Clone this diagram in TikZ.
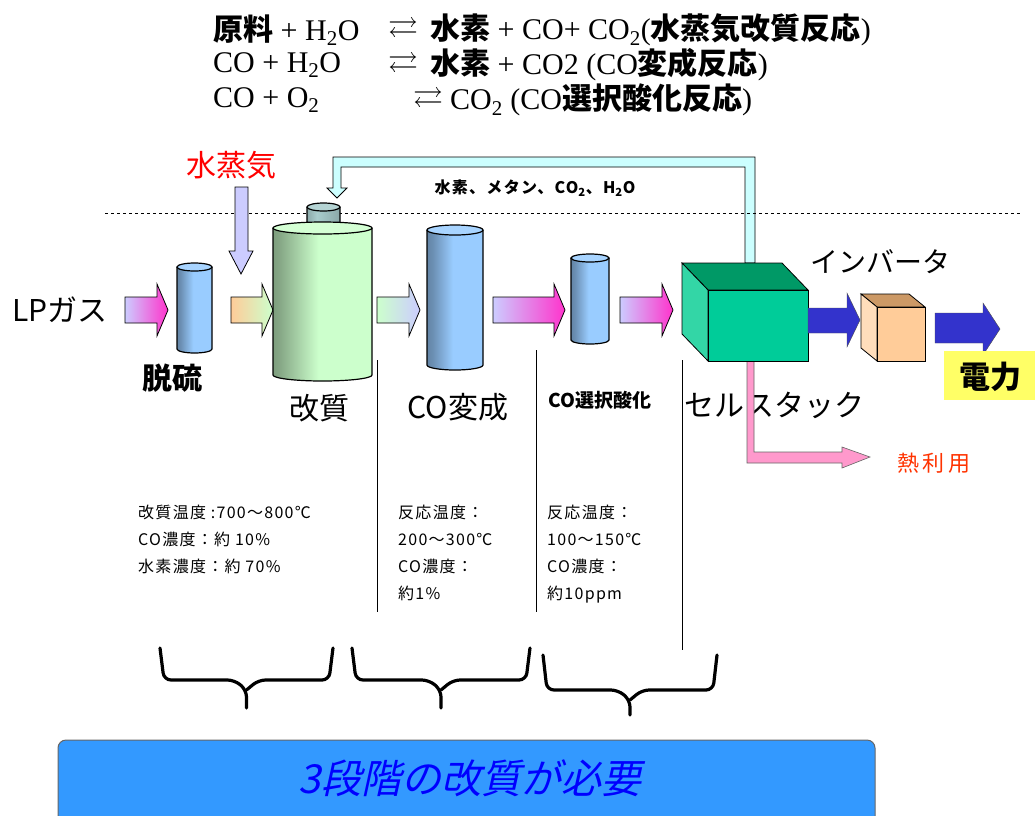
\documentclass[tikz,border=0pt]{standalone}
\usepackage{fontspec}
\usepackage{amssymb}
\usepackage{tikz}
\usetikzlibrary{calc}
\setmainfont{Noto Sans CJK JP}
\newfontfamily\tms{Liberation Serif}
\newfontfamily\jpwide[LetterSpace=8]{Noto Sans CJK JP}
\newfontfamily\jpwider[LetterSpace=14]{Noto Sans CJK JP}
\newfontfamily\jpsl[FakeSlant=0.22]{Noto Sans CJK JP}
\newcommand{\kj}[1]{{\normalfont\bfseries #1}}

\definecolor{cylblue}{HTML}{99CCFF}
\definecolor{refgreen}{HTML}{CCFFCC}
\definecolor{capteal}{HTML}{A8CCCC}
\definecolor{lav}{HTML}{CCCCFF}
\definecolor{mag}{HTML}{FF33CC}
\definecolor{peach}{HTML}{FFCC99}
\definecolor{pipecyan}{HTML}{CCFFFF}
\definecolor{heatpink}{HTML}{FF99CC}
\definecolor{stackfront}{HTML}{00CC99}
\definecolor{stacktop}{HTML}{009966}
\definecolor{stackside}{HTML}{33D6A6}
\definecolor{invfront}{HTML}{FFCC99}
\definecolor{invtop}{HTML}{CC9966}
\definecolor{invside}{HTML}{FFDDBB}
\definecolor{powerblue}{HTML}{3333CC}
\definecolor{poweryellow}{HTML}{FFFF66}
\definecolor{banner}{HTML}{3399FF}
\definecolor{heatred}{HTML}{FF3300}

% side shading of the vessels
\pgfdeclarehorizontalshading{drumcylblue}{100bp}{color(0bp)=(cylblue!40!black); color(30bp)=(cylblue!70!black); color(48bp)=(cylblue); color(78bp)=(cylblue); color(100bp)=(cylblue!55!black)}
\pgfdeclarehorizontalshading{drumrefgreen}{100bp}{color(0bp)=(refgreen!35!black); color(28bp)=(refgreen!65!black); color(48bp)=(refgreen); color(80bp)=(refgreen); color(100bp)=(refgreen!50!black)}
\pgfdeclarehorizontalshading{drumcapteal}{100bp}{color(0bp)=(capteal!55!black); color(40bp)=(capteal); color(100bp)=(capteal!70!black)}

\begin{document}
\begin{tikzpicture}[x=1pt, y=-1pt,
    lbl/.style={inner sep=0pt, font=\fontsize{30}{32}\selectfont},
    eq/.style={inner sep=0pt, anchor=west, font=\tms\fontsize{30}{32}\selectfont},
    note/.style={inner sep=0pt, anchor=north west, align=left, font=\jpwide\fontsize{16}{27}\selectfont},
    duct/.style={draw=black, line width=0.8pt},
    divider/.style={draw=black, line width=0.8pt},
    bracket/.style={line width=3.2pt, rounded corners=7pt, line cap=round}]

    % cylinder: left, right, top, bottom, colour, cap radius
    \def\drum#1#2#3#4#5#6{%
        \pgfmathsetmacro\rx{(#2-#1)/2}
        \pgfmathsetmacro\cx{(#1+#2)/2}
        \shade[shading=drum#5]
            (#1,#3) -- (#1,#4) arc[start angle=180, end angle=0, x radius=\rx, y radius=#6] -- (#2,#3) -- cycle;
        \draw[line width=1.2pt] (#1,#3) -- (#1,#4) arc[start angle=180, end angle=0, x radius=\rx, y radius=#6] -- (#2,#3);
        \filldraw[fill=#5!85!white, line width=1.2pt] (\cx,#3) ellipse[x radius=\rx, y radius=#6];
    }
    % block arrow between the stages: from x, to x, colours
    \def\feed#1#2#3#4{%
        \shade[left color=#3, right color=#4, draw=black, line width=0.8pt]
            (#1,297) -- (#2-11,297) -- (#2-11,284) -- (#2,310) -- (#2-11,336) -- (#2-11,323) -- (#1,323) -- cycle;
    }
    % curly bracket under a stage
    \def\bracket#1#2#3#4#5{%
        \pgfmathsetmacro\bm{(#1+#2)/2}
        \draw[bracket] (#1,#3) -- (#1+4,#4) -- (\bm-12,#4) -- (\bm,#4+10) -- (\bm,#5);
        \draw[bracket] (#2,#3) -- (#2-4,#4) -- (\bm+12,#4) -- (\bm,#4+10);
    }

    \useasboundingbox (0,0) rectangle (1035,815);
    \fill[white] (0,0) rectangle (1035,815);

    % reactions
    \node[eq] (eqA)   at (213,30)  {\kj{原料} + H\textsubscript{2}O};
    \node[eq] (eqAto) at (388,30)  {$\rightleftarrows$};
    \node[eq] (eqAr)  at (430,30)  {\kj{水素} + CO+ CO\textsubscript{2}(\kj{水蒸気改質反応})};
    \node[eq] (eqB)   at (213,65)  {CO + H\textsubscript{2}O};
    \node[eq] (eqBto) at (388,65)  {$\rightleftarrows$};
    \node[eq] (eqBr)  at (430,65)  {\kj{水素} + CO2 (CO\kj{変成反応})};
    \node[eq] (eqC)   at (213,100) {CO + O\textsubscript{2}};
    \node[eq] (eqCto) at (413,100) {$\rightleftarrows$};
    \node[eq] (eqCr)  at (450,100) {CO\textsubscript{2} (CO\kj{選択酸化反応})};

    % recycle line back to the reformer
    \filldraw[fill=pipecyan, duct] (745,263) -- (745,167) -- (341,167) -- (341,188) -- (347,188)
        -- (337,198) -- (327,188) -- (333,188) -- (333,157) -- (755,157) -- (755,263) -- cycle;
    \node[inner sep=0pt, font=\jpwide\bfseries\fontsize{16}{18}\selectfont] (gases) at (535,188)
        {水素、メタン、CO\textsubscript{2}、H\textsubscript{2}O};

    \draw[dashed, dash pattern=on 3pt off 3pt, line width=0.8pt] (105,213) -- (1020,213);

    % steam inlet
    \node[lbl, text=red] (steam) at (231,165) {水蒸気};
    \filldraw[fill=lav, duct] (235,187) -- (235,251) -- (229,251) -- (241,274) -- (253,251) -- (248,251) -- (248,187) -- cycle;

    % process line
    \node[lbl, anchor=west] (lpgas) at (12,310) {LPガス};
    \feed{125}{168}{lav}{mag}
    \drum{177}{212}{267}{349}{cylblue}{4}
    \feed{231}{273}{peach}{refgreen}
    \drum{307}{340}{207}{222}{capteal}{4}
    \drum{273}{372}{228}{375}{refgreen}{6}
    \feed{377}{420}{refgreen}{lav}
    \drum{427}{483}{230}{365}{cylblue}{5}
    \feed{493}{565}{lav}{mag}
    \drum{571}{609}{258}{340}{cylblue}{4}
    \feed{620}{673}{lav}{mag}

    \node[lbl, font=\bfseries\fontsize{30}{32}\selectfont] (desulf) at (172,378) {脱硫};
    \node[lbl] (reform) at (319,408) {改質};
    \node[lbl] (shift) at (458,407) {CO変成};
    \node[lbl, font=\bfseries\fontsize{19}{20}\selectfont] (prox) at (600,400) {CO選択酸化};
    \node[lbl, anchor=west] (stack) at (684,405) {セルスタック};

    % heat take-off
    \filldraw[fill=heatpink, draw=black!60, line width=0.6pt] (747,361) -- (747,463) -- (842,463) -- (842,468)
        -- (870,457) -- (842,447) -- (842,452) -- (754,452) -- (754,361) -- cycle;
    \node[inner sep=0pt, text=heatred, font=\jpwider\fontsize{22}{24}\selectfont] (heat) at (934,463) {熱利用};

    % cell stack
    \filldraw[fill=stacktop, duct] (682,263) -- (782,263) -- (808,290) -- (708,290) -- cycle;
    \filldraw[fill=stackside, duct] (682,263) -- (708,290) -- (708,361) -- (682,334) -- cycle;
    \filldraw[fill=stackfront, duct] (708,290) rectangle (808,361);

    % inverter and power out
    \filldraw[fill=powerblue, draw=black!70] (808,308) -- (847,308) -- (847,293) -- (860,320) -- (847,347) -- (847,333) -- (808,333) -- cycle;
    \filldraw[fill=invtop, duct] (861,294) -- (909,294) -- (925,307) -- (877,307) -- cycle;
    \filldraw[fill=invside, duct] (861,294) -- (877,307) -- (877,361) -- (861,348) -- cycle;
    \filldraw[fill=invfront, duct] (877,307) rectangle (925,361);
    \node[lbl, font=\fontsize{28}{30}\selectfont] (inverter) at (880,262) {インバータ};
    \filldraw[fill=powerblue, draw=black!70] (935,313) -- (983,313) -- (983,303) -- (1000,329) -- (983,355) -- (983,343) -- (935,343) -- cycle;
    \fill[poweryellow] (944,351) rectangle (1035,400);
    \node[lbl, font=\bfseries\fontsize{31}{32}\selectfont] (power) at (990,377) {電力};

    % stage boundaries
    \draw[divider] (377,360) -- (377,612);
    \draw[divider] (536,350) -- (536,612);
    \draw[divider] (682,360) -- (682,650);

    % operating conditions
    \node[note] (condA) at (138,505) {改質温度 :700～800℃\\CO濃度：約 10\%\\水素濃度：約 70\%};
    \node[note] (condB) at (398,505) {反応温度：\\200～300℃\\CO濃度：\\約1\%};
    \node[note] (condC) at (547,505) {反応温度：\\100～150℃\\CO濃度：\\約10ppm};

    \bracket{160}{333}{648}{680}{708}
    \bracket{352}{530}{648}{680}{708}
    \bracket{543}{717}{655}{690}{715}

    \filldraw[fill=banner, draw=black!60, line width=1pt, rounded corners=8pt] (58,740) rectangle (875,840);
    \node[inner sep=0pt, text=blue, font=\jpsl\fontsize{40}{42}\selectfont] (need) at (470,778) {3段階の改質が必要};
\end{tikzpicture}
\end{document}
